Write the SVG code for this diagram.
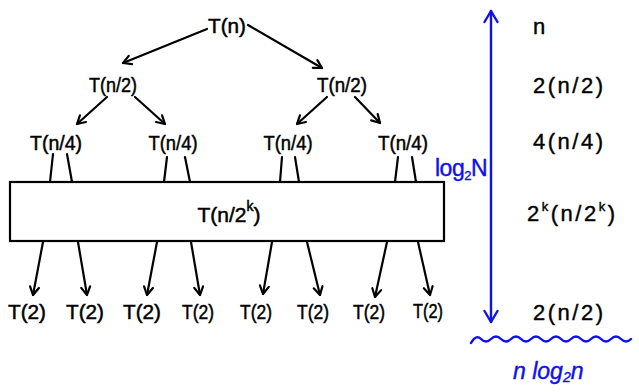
<svg xmlns="http://www.w3.org/2000/svg" width="639" height="392" viewBox="0 0 639 392">
<style>
.t{font-family:"Liberation Sans",Arial,sans-serif;font-size:21px;fill:#000;stroke:#000;stroke-width:0.5;text-anchor:middle}
.r{font-family:"Liberation Sans",Arial,sans-serif;font-size:22px;fill:#000;stroke:#000;stroke-width:0.4;letter-spacing:2.5px}
.b{font-family:"Liberation Sans",Arial,sans-serif;font-size:23px;fill:#1010ee;stroke:#1010ee;stroke-width:0.4}
.ln{stroke:#000;stroke-width:2.2;fill:none;stroke-linecap:round}
.ar{stroke:#000;stroke-width:2.2;fill:none;stroke-linecap:round;marker-end:url(#ah)}
.bl{stroke:#1010ee;stroke-width:2.4;fill:none;stroke-linecap:round}
</style>
<defs>
<marker id="ah" viewBox="0 0 12 12" refX="10" refY="6" markerWidth="12" markerHeight="12" markerUnits="userSpaceOnUse" orient="auto">
<path d="M2,1.5 L10,6 L2,10.5" fill="none" stroke="#000" stroke-width="2.2" stroke-linecap="round" stroke-linejoin="round"/>
</marker>
<marker id="bh" viewBox="0 0 16 16" refX="14" refY="8" markerWidth="16" markerHeight="16" markerUnits="userSpaceOnUse" orient="auto-start-reverse">
<path d="M3,1.5 L14,8 L3,14.5" fill="none" stroke="#1010ee" stroke-width="2.4" stroke-linecap="round" stroke-linejoin="round"/>
</marker>
</defs>
<rect width="639" height="392" fill="#fff"/>
<g id="connectors">
<line class="ar" x1="207" y1="29" x2="123" y2="63"/>
<line class="ar" x1="248" y1="25" x2="322" y2="68"/>
<line class="ar" x1="107" y1="97" x2="77" y2="124"/>
<line class="ar" x1="135" y1="97" x2="165" y2="124"/>
<line class="ar" x1="327" y1="97" x2="297" y2="124"/>
<line class="ar" x1="355" y1="97" x2="380" y2="123"/>
<line class="ln" x1="53" y1="154" x2="50" y2="182"/>
<line class="ln" x1="67" y1="154" x2="72" y2="182"/>
<line class="ln" x1="167" y1="157" x2="164" y2="182"/>
<line class="ln" x1="185" y1="157" x2="190" y2="182"/>
<line class="ln" x1="282" y1="157" x2="280" y2="182"/>
<line class="ln" x1="295" y1="157" x2="299" y2="182"/>
<line class="ln" x1="398" y1="157" x2="395" y2="182"/>
<line class="ln" x1="412" y1="157" x2="416" y2="182"/>
<line class="ar" x1="43" y1="242" x2="33" y2="295"/>
<line class="ar" x1="78" y1="242" x2="87" y2="295"/>
<line class="ar" x1="157" y1="242" x2="147" y2="295"/>
<line class="ar" x1="191" y1="242" x2="200" y2="295"/>
<line class="ar" x1="272" y1="242" x2="263" y2="294"/>
<line class="ar" x1="307" y1="242" x2="320" y2="295"/>
<line class="ar" x1="387" y1="242" x2="375" y2="297"/>
<line class="ar" x1="418" y1="242" x2="430" y2="295"/>
</g>
<g id="root"><text class="t" x="227" y="33" font-size="22" textLength="38" lengthAdjust="spacingAndGlyphs">T(n)</text></g>
<g id="n2a"><text class="t" x="113" y="92" textLength="48" lengthAdjust="spacingAndGlyphs">T(n/2)</text></g>
<g id="n2b"><text class="t" x="342" y="92" textLength="50" lengthAdjust="spacingAndGlyphs">T(n/2)</text></g>
<g id="n4a"><text class="t" x="56" y="150" textLength="52" lengthAdjust="spacingAndGlyphs">T(n/4)</text></g>
<g id="n4b"><text class="t" x="173" y="150" textLength="49" lengthAdjust="spacingAndGlyphs">T(n/4)</text></g>
<g id="n4c"><text class="t" x="288" y="150" textLength="49" lengthAdjust="spacingAndGlyphs">T(n/4)</text></g>
<g id="n4d"><text class="t" x="403" y="150" textLength="50" lengthAdjust="spacingAndGlyphs">T(n/4)</text></g>
<g id="box">
<rect x="10" y="182" width="434" height="59" fill="#fff" stroke="#000" stroke-width="2.2"/>
<text class="t" x="229" y="222" font-size="24">T(n/2<tspan font-size="14" dy="-11">k</tspan><tspan dy="11">)</tspan></text>
</g>
<g id="leaves">
<text class="t" x="27" y="319" textLength="38" lengthAdjust="spacingAndGlyphs">T(2)</text>
<text class="t" x="85" y="319" textLength="38" lengthAdjust="spacingAndGlyphs">T(2)</text>
<text class="t" x="142" y="319" textLength="38" lengthAdjust="spacingAndGlyphs">T(2)</text>
<text class="t" x="198" y="319" textLength="32" lengthAdjust="spacingAndGlyphs">T(2)</text>
<text class="t" x="256" y="319" textLength="32" lengthAdjust="spacingAndGlyphs">T(2)</text>
<text class="t" x="313" y="319" textLength="32" lengthAdjust="spacingAndGlyphs">T(2)</text>
<text class="t" x="369" y="319" textLength="32" lengthAdjust="spacingAndGlyphs">T(2)</text>
<text class="t" x="428" y="318" textLength="30" lengthAdjust="spacingAndGlyphs">T(2)</text>
</g>
<g id="height">
<line class="bl" x1="491" y1="11" x2="491" y2="322" marker-start="url(#bh)" marker-end="url(#bh)"/>
<text class="b" x="435" y="176" font-size="21" letter-spacing="-0.5">log<tspan font-size="13" dy="4">2</tspan><tspan dy="-4">N</tspan></text>
</g>
<g id="costs">
<text class="r" x="533" y="34">n</text>
<text class="r" x="533" y="93">2(n/2)</text>
<text class="r" x="533" y="149">4(n/4)</text>
<text class="r" x="527" y="221" letter-spacing="2">2<tspan font-size="13" dy="-10">k</tspan><tspan dy="10">(n/2</tspan><tspan font-size="13" dy="-10">k</tspan><tspan dy="10">)</tspan></text>
<text class="r" x="533" y="320">2(n/2)</text>
</g>
<g id="total">
<path class="bl" d="M471,343 q5,-9 10,-4 t10,0 t10,0 t10,0 t10,0 t10,0 t10,0 t10,0 t10,0 t10,0 t10,0 t10,0 t10,0 t10,0 t10,0 t10,0"/>
<text class="b" x="513" y="379" font-style="italic">n log<tspan font-size="14" dy="3">2</tspan><tspan dy="-3">n</tspan></text>
</g>
</svg>
